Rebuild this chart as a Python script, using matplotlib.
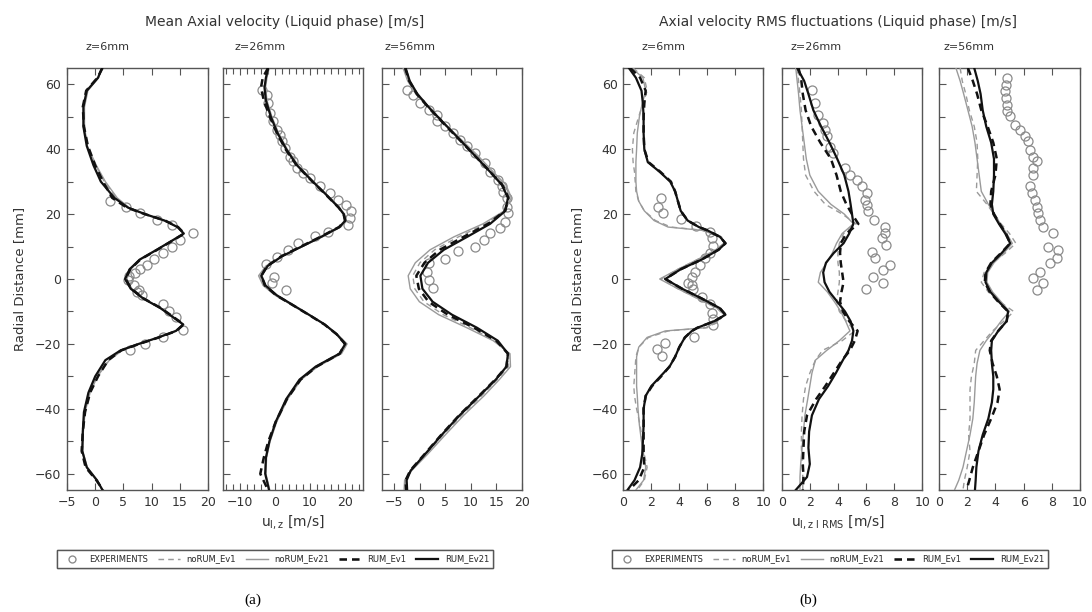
import matplotlib
matplotlib.use("Agg")
import matplotlib.pyplot as plt
from matplotlib.lines import Line2D
from matplotlib.ticker import MultipleLocator

# ---- (a) mean axial velocity, z = 6 mm ----
A1_Y = [65, 62, 58, 53, 47, 41, 35, 30, 25, 22, 20, 18, 16, 14, 12, 9, 6, 3, 0, -3, -6, -9, -12, -14, -16,
        -18, -20, -22, -25, -30, -35, -41, -47, -53, -58, -62, -65]
A1_RUM21 = [1.2, 0.5, -1.5, -2.1, -2.1, -1.5, -0.3, 1.0, 3.4, 5.8, 8.8, 12.3, 14.6, 15.7, 13.8, 10.9, 7.9, 6.1,
            5.3, 6.3, 8.5, 11.6, 14.0, 15.6, 14.3, 11.2, 7.7, 4.5, 1.8, 0.0, -1.2, -2.0, -2.2, -2.3, -1.5, 0.3, 1.3]
A1_RUM1 = [1.3, 0.4, -1.6, -2.2, -2.0, -1.3, 0.0, 1.4, 3.0, 5.6, 8.8, 12.4, 14.7, 15.8, 13.9, 11.0, 8.0, 6.2,
           5.4, 6.4, 8.6, 11.7, 14.1, 15.7, 14.4, 11.3, 7.8, 4.6, 2.3, 0.5, -0.9, -1.8, -2.2, -2.4, -1.7, 0.2, 1.4]
A1_NORUM21 = [1.1, 0.6, -1.3, -1.9, -1.9, -1.4, 0.2, 1.8, 3.9, 6.0, 8.9, 12.3, 14.6, 15.8, 13.9, 11.0, 8.0, 6.3,
              5.6, 6.5, 8.6, 11.6, 14.0, 15.7, 14.4, 11.2, 7.9, 4.8, 2.5, 0.4, -0.9, -1.8, -2.1, -2.2, -1.4, 0.4, 1.2]
A1_NORUM1 = [1.2, 0.5, -1.4, -2.0, -2.0, -1.4, 0.1, 1.6, 3.7, 5.9, 8.8, 12.2, 14.5, 15.7, 13.8, 10.9, 7.9, 6.1,
             5.4, 6.3, 8.5, 11.5, 13.9, 15.6, 14.3, 11.2, 7.8, 4.7, 2.4, 0.3, -1.0, -1.9, -2.2, -2.3, -1.5, 0.3, 1.3]
A1_EXP_X = [2.6, 5.5, 7.9, 10.9, 13.7, 17.3, 15.0, 13.6, 12.0, 10.4, 9.1, 8.0, 7.0, 6.0, 5.9, 6.8, 7.7, 7.4, 8.3,
            12.0, 13.1, 14.4, 15.6, 12.1, 8.8, 6.2]
A1_EXP_Y = [24.1, 22.3, 20.3, 18.2, 16.7, 14.3, 12.0, 10.0, 8.1, 6.2, 4.3, 3.0, 2.0, 0.8, -0.3, -1.9, -3.4, -3.9,
            -5.0, -7.7, -9.8, -11.6, -15.7, -17.8, -20.1, -21.9]

# ---- (a) z = 26 mm ----
A2_Y = [65, 62, 59, 55, 50, 45, 40, 35, 30, 26, 22, 20, 18, 16, 13, 10, 7, 4, 1, -2, -5, -8, -11, -14, -17, -20,
        -23, -27, -31, -37, -44, -50, -55, -60, -65]
A2_RUM21 = [-1.9, -2.6, -3.0, -2.6, -1.2, 0.7, 3.2, 6.3, 10.8, 14.6, 18.2, 19.6, 20.1, 18.4, 13.2, 7.6, 2.0, -2.1,
            -3.9, -2.7, 0.5, 5.1, 9.7, 14.2, 17.6, 20.1, 18.4, 11.6, 7.0, 3.2, 0.2, -1.6, -2.6, -2.8, -1.7]
A2_RUM1 = [-2.0, -3.5, -4.0, -3.2, -1.5, 0.5, 3.0, 6.2, 10.7, 14.5, 18.2, 19.6, 20.0, 18.3, 13.0, 7.4, 1.8, -2.3,
           -3.9, -2.9, 0.3, 5.0, 9.6, 14.1, 17.6, 20.0, 18.5, 11.9, 7.3, 3.4, 0.2, -1.9, -3.2, -4.2, -2.0]
A2_NORUM21 = [-1.7, -2.3, -2.7, -2.3, -0.9, 1.0, 3.5, 6.6, 11.0, 14.8, 18.4, 19.9, 20.4, 18.8, 13.6, 7.9, 1.9, -2.6,
              -4.7, -3.4, 0.0, 4.8, 9.5, 14.2, 17.8, 20.6, 19.0, 12.2, 7.5, 3.6, 0.5, -1.4, -2.4, -2.6, -1.5]
A2_NORUM1 = [-1.8, -2.5, -2.9, -2.5, -1.1, 0.8, 3.3, 6.4, 10.9, 14.7, 18.3, 19.8, 20.3, 18.6, 13.4, 7.7, 1.9, -2.4,
             -4.3, -3.1, 0.2, 4.9, 9.6, 14.2, 17.7, 20.4, 18.8, 11.9, 7.2, 3.4, 0.3, -1.5, -2.5, -2.7, -1.6]
A2_EXP_X = [-3.8, -2.4, -1.9, -1.4, -0.5, 0.5, 1.4, 1.9, 2.9, 4.3, 5.2, 6.2, 8.1, 10.0, 12.8, 15.7, 18.0, 20.4, 21.7,
            21.4, 20.9, 15.2, 11.4, 6.7, 3.8, 0.5, -2.5, -0.2, -0.9, 3.1]
A2_EXP_Y = [58.3, 56.8, 54.2, 51.1, 48.6, 46.0, 44.4, 42.4, 40.3, 37.7, 36.2, 34.2, 32.6, 31.1, 28.5, 26.4, 24.4,
            22.8, 20.8, 18.7, 16.7, 14.6, 13.1, 11.0, 9.0, 6.9, 4.6, 0.5, -1.1, -3.4]

# ---- (a) z = 56 mm ----
A3_Y = [65, 61, 57, 53, 48, 43, 38, 33, 29, 25, 21, 17, 13, 9, 5, 1, -3, -7, -11, -15, -19, -23, -27, -31, -36,
        -42, -48, -54, -59, -62, -65]
A3_RUM21 = [-2.8, -2.0, -0.5, 1.7, 4.7, 7.8, 10.8, 13.8, 16.1, 17.3, 16.8, 13.8, 9.3, 4.7, 1.6, 0.1, 0.5, 2.5, 6.3,
            11.2, 15.3, 17.3, 17.0, 14.9, 11.7, 7.8, 4.3, 1.0, -1.8, -2.6, -2.5]
A3_RUM1 = [-2.9, -2.1, -0.6, 1.6, 4.6, 7.7, 10.8, 13.8, 16.2, 17.4, 16.7, 13.4, 8.6, 3.9, 0.9, -0.7, -0.2, 1.7, 5.5,
           10.6, 15.0, 17.3, 17.0, 14.8, 11.6, 7.7, 4.2, 0.9, -1.9, -2.8, -2.7]
A3_NORUM21 = [-3.3, -2.4, -0.8, 1.6, 4.8, 8.1, 11.4, 14.4, 16.9, 18.0, 16.6, 12.4, 6.7, 2.0, -0.9, -2.3, -1.9, -0.1,
              3.7, 9.2, 14.4, 17.7, 17.8, 15.6, 12.6, 8.6, 5.0, 1.5, -1.6, -3.0, -3.1]
A3_NORUM1 = [-3.1, -2.3, -0.8, 1.5, 4.6, 7.8, 11.0, 14.1, 16.5, 17.7, 16.7, 12.9, 7.6, 2.9, 0.0, -1.4, -1.0, 0.8,
             4.6, 9.9, 14.7, 17.5, 17.4, 15.2, 12.1, 8.2, 4.6, 1.2, -1.8, -2.9, -2.9]
A3_EXP_X = [-2.6, -1.3, 0.0, 1.7, 3.3, 3.3, 4.9, 6.6, 7.9, 9.2, 10.8, 12.8, 13.8, 15.4, 16.1, 16.4, 17.1, 17.1, 17.4,
            16.7, 15.7, 13.8, 12.5, 10.8, 7.5, 4.9, 1.7, 1.3, 1.7, 2.6]
A3_EXP_Y = [58.3, 56.8, 54.2, 52.2, 50.6, 48.6, 47.0, 45.0, 42.9, 41.0, 38.8, 35.7, 33.1, 30.6, 28.5, 26.9, 24.9,
            22.3, 20.3, 17.7, 15.6, 14.1, 12.0, 9.8, 8.7, 6.1, 4.8, 2.3, -0.3, -2.9]

# ---- (b) RMS fluctuations, z = 6 mm ----
B1_Y = [65, 62, 58, 54, 50, 45, 40, 36, 33, 30, 27, 24, 21, 18, 16, 15, 13, 11, 9, 6, 3, 0, -3, -6, -9, -11, -13,
        -15, -16, -18, -21, -24, -27, -30, -33, -36, -40, -45, -50, -54, -58, -62, -65]
B1_RUM21 = [0.4, 0.9, 1.3, 1.4, 1.45, 1.45, 1.5, 1.75, 2.6, 3.35, 3.7, 3.9, 4.1, 4.6, 5.4, 6.0, 6.9, 7.3, 6.8, 5.6,
            4.1, 3.0, 4.2, 5.6, 6.9, 7.3, 6.5, 5.3, 4.9, 4.4, 4.0, 3.7, 3.3, 2.65, 2.0, 1.6, 1.45, 1.45, 1.4, 1.35,
            1.2, 0.8, 0.3]
B1_RUM1 = [0.5, 1.2, 1.6, 1.5, 1.45, 1.45, 1.5, 1.8, 2.65, 3.4, 3.7, 3.9, 4.1, 4.6, 5.4, 6.0, 6.9, 7.3, 6.8, 5.6,
           4.1, 3.0, 4.2, 5.6, 6.9, 7.3, 6.5, 5.3, 4.9, 4.4, 4.0, 3.7, 3.3, 2.7, 2.05, 1.6, 1.45, 1.45, 1.45, 1.45,
           1.5, 1.1, 0.4]
B1_NORUM21 = [0.6, 1.4, 1.6, 1.35, 1.15, 1.0, 0.95, 0.9, 0.9, 0.9, 0.95, 1.1, 1.5, 2.2, 3.2, 5.6, 7.0, 7.2, 6.6,
              5.3, 3.9, 2.6, 3.9, 5.3, 6.7, 7.2, 6.7, 5.9, 3.0, 1.7, 1.1, 0.95, 0.95, 0.95, 0.95, 1.0, 1.05, 1.15,
              1.3, 1.45, 1.6, 1.45, 0.9]
B1_NORUM1 = [0.7, 1.5, 1.7, 1.4, 1.1, 0.75, 0.65, 0.7, 0.8, 0.85, 0.9, 1.1, 1.5, 2.3, 3.4, 5.7, 7.0, 7.2, 6.6, 5.3,
             3.9, 2.7, 3.9, 5.3, 6.7, 7.2, 6.8, 6.0, 3.2, 1.8, 1.1, 0.9, 0.85, 0.8, 0.75, 0.8, 0.95, 1.2, 1.35, 1.5,
             1.7, 1.5, 1.0]
B1_EXP_X = [2.67, 2.5, 2.86, 4.1, 5.19, 6.19, 6.31, 6.38, 6.19, 5.83, 5.48, 5.12, 4.88, 4.64, 4.9, 5.0, 5.6, 6.19,
            6.31, 6.38, 6.43, 5.05, 2.98, 2.38, 2.74]
B1_EXP_Y = [24.9, 22.3, 20.3, 18.4, 16.4, 14.6, 12.6, 10.2, 7.9, 6.4, 4.3, 2.3, 0.7, -1.3, -2.0, -3.2, -5.5, -7.7,
            -10.4, -12.4, -14.2, -17.8, -19.6, -21.7, -23.8]

# ---- (b) z = 26 mm ----
B2_Y = [65, 61, 57, 52, 47, 42, 37, 32, 27, 23, 20, 17, 14, 11, 8, 5, 2, -1, -4, -7, -10, -13, -16, -19, -22, -25,
        -29, -33, -37, -42, -47, -52, -57, -61, -65]
B2_RUM21 = [1.1, 1.6, 1.9, 2.25, 2.8, 3.4, 3.95, 4.45, 4.75, 4.9, 5.0, 5.1, 4.8, 4.4, 3.7, 3.15, 2.95, 3.05, 3.4,
            3.95, 4.5, 4.9, 5.1, 5.0, 4.75, 4.35, 3.85, 3.3, 2.65, 2.15, 1.95, 1.9, 2.0, 1.8, 1.0]
B2_RUM1 = [1.2, 1.4, 1.5, 1.7, 2.1, 2.75, 3.5, 3.9, 4.2, 4.6, 5.0, 5.45, 4.6, 4.2, 4.15, 4.2, 4.3, 4.4, 4.25, 4.15,
           4.35, 4.8, 5.4, 5.2, 4.85, 4.3, 3.7, 3.1, 2.45, 1.8, 1.6, 1.55, 1.5, 1.55, 1.5]
B2_NORUM21 = [1.0, 1.1, 1.2, 1.3, 1.45, 1.6, 1.75, 2.0, 2.6, 3.5, 4.45, 5.1, 4.3, 3.9, 3.6, 3.2, 2.75, 2.6, 3.25,
              3.75, 4.2, 4.55, 4.85, 4.1, 3.2, 2.4, 2.15, 2.0, 1.85, 1.65, 1.55, 1.45, 1.35, 1.3, 1.3]
B2_NORUM1 = [1.1, 1.2, 1.3, 1.4, 1.45, 1.5, 1.55, 1.7, 2.3, 3.1, 4.3, 5.3, 4.4, 4.1, 4.0, 4.0, 4.1, 4.1, 4.0, 3.9,
             4.1, 4.6, 5.2, 4.3, 2.9, 2.4, 2.0, 1.7, 1.55, 1.45, 1.4, 1.4, 1.45, 1.5, 1.5]
B2_EXP_X = [2.13, 2.37, 2.61, 2.96, 3.08, 3.2, 3.44, 3.67, 4.5, 4.86, 5.33, 5.69, 6.04, 5.92, 6.04, 6.16, 6.56,
            7.35, 7.35, 7.11, 7.42, 6.4, 6.64, 7.7, 7.23, 6.52, 7.23, 6.0]
B2_EXP_Y = [58.3, 54.2, 50.6, 48.1, 46.0, 43.9, 40.8, 38.8, 34.2, 32.1, 30.6, 28.5, 26.4, 24.4, 22.8, 20.8, 18.2,
            16.1, 14.1, 12.6, 10.5, 8.4, 6.4, 4.3, 2.8, 0.7, -1.3, -3.2]

# ---- (b) z = 56 mm ----
B3_Y = [65, 61, 57, 52, 47, 42, 37, 32, 27, 23, 20, 17, 14, 11, 8, 5, 2, -1, -4, -7, -10, -13, -16, -19, -22, -26,
        -30, -34, -38, -43, -48, -53, -58, -62, -65]
B3_RUM21 = [2.5, 2.75, 2.95, 3.1, 3.35, 3.7, 3.9, 3.9, 3.85, 3.75, 3.85, 4.25, 4.7, 5.05, 4.45, 3.75, 3.35, 3.3,
            3.65, 4.25, 4.9, 4.8, 4.2, 3.75, 3.7, 3.75, 3.85, 3.85, 3.75, 3.5, 3.1, 2.8, 2.65, 2.6, 2.55]
B3_RUM1 = [2.05, 2.4, 2.7, 3.0, 3.45, 3.85, 4.1, 4.0, 3.7, 3.65, 3.9, 4.3, 4.75, 5.05, 4.4, 3.7, 3.3, 3.25, 3.6,
           4.2, 4.9, 4.8, 4.2, 3.7, 3.6, 3.8, 4.1, 4.3, 4.15, 3.7, 3.2, 2.8, 2.4, 2.15, 1.95]
B3_NORUM21 = [1.2, 1.5, 1.75, 2.05, 2.35, 2.55, 2.7, 2.85, 3.0, 3.5, 3.95, 4.35, 4.8, 5.2, 4.6, 3.9, 3.45, 3.4,
              3.8, 4.4, 5.0, 4.4, 3.9, 3.35, 2.9, 2.7, 2.6, 2.55, 2.5, 2.4, 2.2, 1.95, 1.7, 1.4, 1.1]
B3_NORUM1 = [1.5, 1.65, 1.9, 2.15, 2.5, 2.7, 2.75, 2.7, 2.65, 3.4, 3.9, 4.4, 5.0, 5.45, 4.7, 3.8, 3.2, 3.0, 3.5,
             4.3, 5.3, 4.6, 3.8, 3.2, 2.6, 2.5, 2.3, 2.2, 2.2, 2.2, 2.1, 2.2, 2.0, 1.8, 1.7]
B3_EXP_X = [4.8, 4.75, 4.68, 4.75, 4.8, 4.85, 5.04, 5.39, 5.74, 6.1, 6.34, 6.45, 6.69, 6.93, 6.69, 6.64, 6.45,
            6.57, 6.81, 6.93, 7.04, 7.16, 7.4, 8.11, 7.75, 8.46, 8.35, 7.87, 7.16, 6.69, 7.4, 6.93]
B3_EXP_Y = [61.9, 59.9, 57.8, 55.8, 53.7, 51.6, 50.1, 47.5, 46.0, 43.9, 42.4, 39.8, 37.7, 36.2, 34.2, 32.1, 28.5,
            26.4, 24.4, 22.3, 20.3, 18.2, 16.1, 14.1, 10.0, 9.0, 6.4, 4.8, 2.3, 0.2, -1.3, -3.4]

SERIES = ["EXPERIMENTS", "noRUM_Ev1", "noRUM_Ev21", "RUM_Ev1", "RUM_Ev21"]
Z_LABELS = ["z=6mm", "z=26mm", "z=56mm"]

GRAY = "#9a9a9a"
DARK = "#111111"
AXIS = "#555555"
TEXT = "#333333"

plt.rcParams["font.family"] = ["DejaVu Sans"]

fig = plt.figure(figsize=(10.92, 6.12), dpi=100)
W, H = 1092.0, 612.0


def panel(left_px, width_px, y, rum21, rum1, norum21, norum1, exp_x, exp_y, xlim, xmajor, xminor, zlabel,
          zlabel_px, ylabels):
    ax = fig.add_axes([left_px / W, (H - 490) / H, width_px / W, 422 / H])
    ax.plot(exp_x, exp_y, "o", ms=6.5, mfc="none", mec="#8a8a8a", mew=0.9, zorder=2)
    ax.plot(norum1, y, color=GRAY, lw=1.0, dashes=(4, 3), zorder=3)
    ax.plot(norum21, y, color=GRAY, lw=1.0, zorder=3)
    ax.plot(rum1, y, color=DARK, lw=1.8, dashes=(3, 2), zorder=4)
    ax.plot(rum21, y, color=DARK, lw=1.6, zorder=5)
    ax.set_xlim(*xlim)
    ax.set_ylim(-65, 65)
    ax.xaxis.set_major_locator(MultipleLocator(xmajor))
    if xminor:
        ax.xaxis.set_minor_locator(MultipleLocator(xminor))
    ax.yaxis.set_major_locator(MultipleLocator(20))
    ax.yaxis.set_minor_locator(MultipleLocator(10))
    ax.tick_params(which="both", direction="in", top=True, right=False, color=AXIS, labelcolor=TEXT,
                   labelsize=9, width=0.8)
    ax.tick_params(which="major", length=5, pad=4)
    ax.tick_params(which="minor", length=4)
    if not ylabels:
        ax.tick_params(axis="y", labelleft=False)
    for s in ax.spines.values():
        s.set_color(AXIS)
        s.set_linewidth(1.0)
    fig.text(zlabel_px / W, 1 - 47 / H, zlabel, ha="center", va="center", fontsize=8, color=TEXT)
    return ax


panel(67, 141, A1_Y, A1_RUM21, A1_RUM1, A1_NORUM21, A1_NORUM1, A1_EXP_X, A1_EXP_Y, (-5, 20), 5, None,
      Z_LABELS[0], 107, True)
panel(222.5, 140, A2_Y, A2_RUM21, A2_RUM1, A2_NORUM21, A2_NORUM1, A2_EXP_X, A2_EXP_Y, (-15, 25), 10, 2,
      Z_LABELS[1], 260, False)
panel(381.7, 140, A3_Y, A3_RUM21, A3_RUM1, A3_NORUM21, A3_NORUM1, A3_EXP_X, A3_EXP_Y, (-7.5, 20), 5, None,
      Z_LABELS[2], 410, False)
panel(623.3, 140, B1_Y, B1_RUM21, B1_RUM1, B1_NORUM21, B1_NORUM1, B1_EXP_X, B1_EXP_Y, (0, 10), 2, None,
      Z_LABELS[0], 664, True)
panel(781.7, 140.6, B2_Y, B2_RUM21, B2_RUM1, B2_NORUM21, B2_NORUM1, B2_EXP_X, B2_EXP_Y, (0, 10), 2, None,
      Z_LABELS[1], 816, False)
panel(939, 141, B3_Y, B3_RUM21, B3_RUM1, B3_NORUM21, B3_NORUM1, B3_EXP_X, B3_EXP_Y, (0, 10), 2, None,
      Z_LABELS[2], 969, False)

# titles and axis labels
fig.text(285 / W, 1 - 22 / H, "Mean Axial velocity (Liquid phase) [m/s]", ha="center", va="center",
         fontsize=10, color=TEXT)
fig.text(838 / W, 1 - 22 / H, "Axial velocity RMS fluctuations (Liquid phase) [m/s]", ha="center",
         va="center", fontsize=10, color=TEXT)
fig.text(20 / W, 1 - 279 / H, "Radial Distance [mm]", rotation=90, ha="center", va="center", fontsize=9.5,
         color=TEXT)
fig.text(578 / W, 1 - 279 / H, "Radial Distance [mm]", rotation=90, ha="center", va="center", fontsize=9.5,
         color=TEXT)
fig.text(293 / W, 1 - 522 / H, r"$\mathregular{u_{l,z}}$ [m/s]", ha="center", va="center", fontsize=10,
         color=TEXT)
fig.text(838 / W, 1 - 522 / H, r"$\mathregular{u_{l,z\ l\ RMS}}$ [m/s]", ha="center", va="center",
         fontsize=10, color=TEXT)

# legends
handles = [
    Line2D([], [], ls="none", marker="o", ms=5, mfc="none", mec="#8a8a8a", mew=0.9),
    Line2D([], [], color=GRAY, lw=1.0, dashes=(4, 3)),
    Line2D([], [], color=GRAY, lw=1.0),
    Line2D([], [], color=DARK, lw=1.8, dashes=(3, 2)),
    Line2D([], [], color=DARK, lw=1.6),
]
for cx in (275, 830):
    leg = fig.legend(handles, SERIES, loc="center", bbox_to_anchor=(cx / W, 1 - 559 / H), ncol=5, fontsize=6,
                     frameon=True, fancybox=False, handlelength=2.6, columnspacing=1.2, handletextpad=0.8,
                     borderpad=0.5, labelcolor=TEXT)
    leg.get_frame().set_edgecolor("#444444")
    leg.get_frame().set_linewidth(1.0)
    fig.add_artist(leg)

fig.text(253 / W, 1 - 600 / H, "(a)", ha="center", va="center", fontsize=11, family="Liberation Serif")
fig.text(808 / W, 1 - 600 / H, "(b)", ha="center", va="center", fontsize=11, family="Liberation Serif")

fig.savefig("out.png", dpi=100, facecolor="white")
